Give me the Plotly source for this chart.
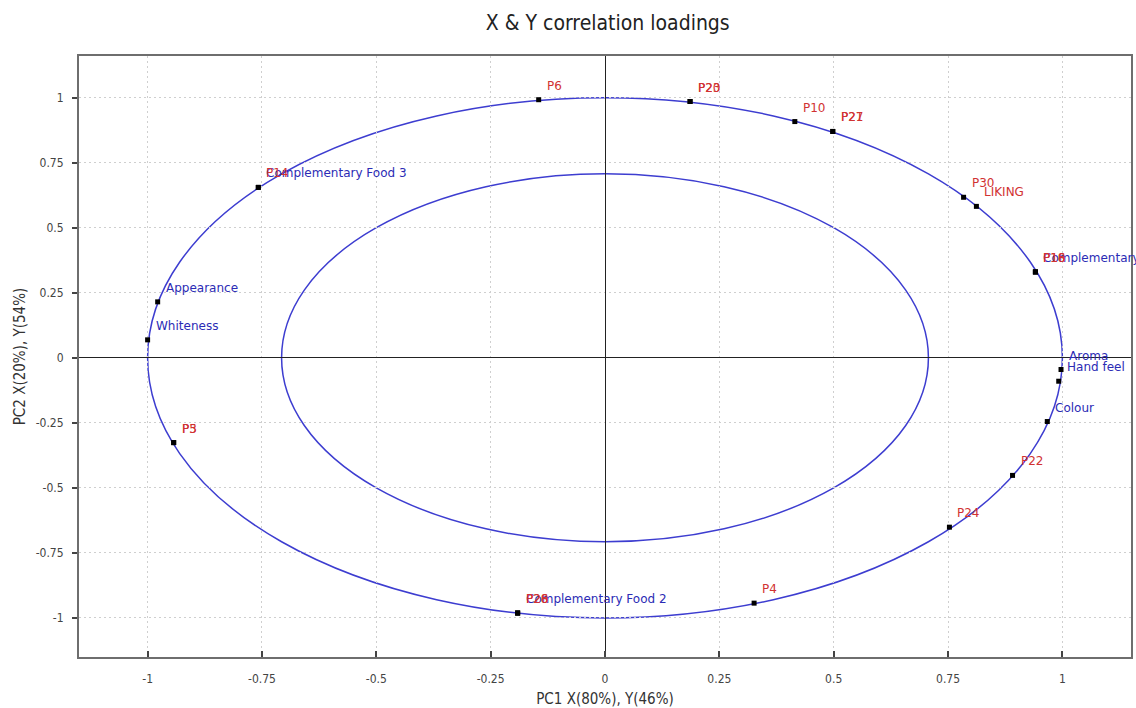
import plotly.graph_objects as go

# Correlation loadings: PC1 / PC2 coordinates of X (blue) and Y (red) variables
labels = [
    "P6", "P20", "P23", "P10", "P21", "P27", "P30", "LIKING",
    "Complementary Food 1", "P18", "P16",
    "Aroma", "Hand feel", "Colour", "P22", "P24", "P4",
    "Complementary Food 2", "P26", "P28",
    "P3", "P5", "Whiteness", "Appearance",
    "Complementary Food 3", "P14",
]
pc1 = [
    -0.145, 0.186, 0.186, 0.415, 0.498, 0.498, 0.784, 0.812,
    0.941, 0.941, 0.941,
    0.997, 0.992, 0.967, 0.891, 0.753, 0.326,
    -0.191, -0.191, -0.191,
    -0.943, -0.943, -1.000, -0.978,
    -0.758, -0.758,
]
pc2 = [
    0.992, 0.985, 0.985, 0.908, 0.870, 0.870, 0.617, 0.582,
    0.330, 0.330, 0.330,
    -0.045, -0.090, -0.245, -0.452, -0.651, -0.943,
    -0.981, -0.981, -0.981,
    -0.326, -0.326, 0.069, 0.215,
    0.655, 0.655,
]
block = [
    "Y", "Y", "Y", "Y", "Y", "Y", "Y", "Y",
    "X", "Y", "Y",
    "X", "X", "X", "Y", "Y", "Y",
    "X", "Y", "Y",
    "Y", "Y", "X", "X",
    "X", "Y",
]

ticks = [-1, -0.75, -0.5, -0.25, 0, 0.25, 0.5, 0.75, 1]
tick_text = ["-1", "-0.75", "-0.5", "-0.25", "0", "0.25", "0.5", "0.75", "1"]

# explained variance shown in the axis titles
pc1_title = "PC1 X(80%), Y(46%)"
pc2_title = "PC2 X(20%), Y(54%)"

X_COLOR = "#2b2bb5"
Y_COLOR = "#d13232"
CIRCLE_COLOR = "#3d3dd0"
NARROW = "Liberation Sans Narrow, DejaVu Sans Condensed, Arial Narrow, sans-serif"
tick_font = dict(family=NARROW, size=12, color="#444444")

fig = go.Figure()

fig.add_trace(go.Scatter(
    x=pc1, y=pc2, mode="markers",
    marker=dict(symbol="square", size=5, color="black"),
    hovertext=labels, hoverinfo="text", showlegend=False,
))

# labels: X variables first, then Y variables drawn on top
order = [i for i, b in enumerate(block) if b == "X"] + [i for i, b in enumerate(block) if b == "Y"]
for i in order:
    fig.add_annotation(
        x=pc1[i], y=pc2[i], text=labels[i], showarrow=False,
        xanchor="left", yanchor="middle", xshift=6, yshift=14,
        font=dict(family="DejaVu Sans, Verdana, sans-serif", size=12,
                  color=X_COLOR if block[i] == "X" else Y_COLOR),
    )

# 100% and 50% explained variance circles
for r in (1.0, 0.5 ** 0.5):
    fig.add_shape(type="circle", xref="x", yref="y",
                  x0=-r, y0=-r, x1=r, y1=r,
                  line=dict(color=CIRCLE_COLOR, width=1.5), layer="below")

axis_common = dict(
    tickmode="array", tickvals=ticks, ticktext=tick_text,
    tickfont=tick_font,
    showgrid=True, gridcolor="#cfcfcf", griddash="2px,3px", gridwidth=1,
    zeroline=True, zerolinecolor="#222222", zerolinewidth=1,
    showline=True, linecolor="#6e6e6e", linewidth=2, mirror=True,
    ticks="inside", ticklen=6, tickcolor="#444444", tickwidth=1.5,
    range=[-1.15, 1.15],
)

fig.update_layout(
    width=1136, height=708,
    margin=dict(l=79, r=3, t=56, b=49),
    paper_bgcolor="white", plot_bgcolor="white",
    title=dict(text="X & Y correlation loadings", x=0.535, xanchor="center",
               y=0.968, yanchor="middle",
               font=dict(family=NARROW, size=21, color="#222222")),
    xaxis=dict(**axis_common, ticklabelstandoff=10,
               title=dict(text=pc1_title, standoff=8,
                          font=dict(family=NARROW, size=15, color="#333333"))),
    yaxis=dict(**{**axis_common, "range": [-1.15, 1.16], "ticks": "outside", "ticklen": 5},
               ticklabelstandoff=6,
               title=dict(text=pc2_title, standoff=6,
                          font=dict(family=NARROW, size=15, color="#333333"))),
    showlegend=False,
)

fig.write_html("out.html")
